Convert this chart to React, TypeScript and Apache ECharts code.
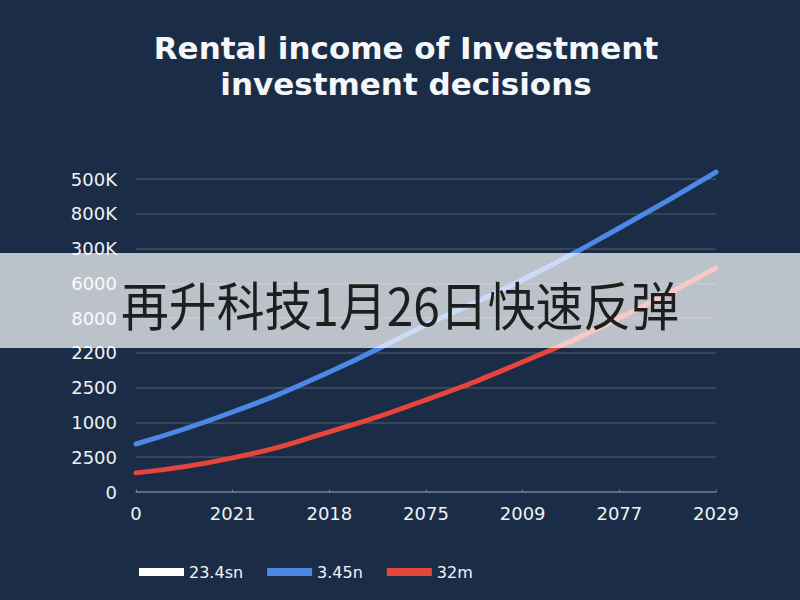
import React, { useEffect, useRef } from "react";
import * as echarts from "echarts";

const titleLines = ["Rental income of Investment", "investment decisions"];
const bannerText = "再升科技1月26日快速反弹";
const xCategories = ["0", "2021", "2018", "2075", "2009", "2077", "2029"];
// y tick labels from bottom (0) to top (9)
const yTickLabels = ["0", "2500", "1000", "2500", "2200", "8000", "6000", "300K", "800K", "500K"];
const seriesNames = ["23.4sn", "3.45n", "32m"];
const whiteValues: number[] = [];
const blueValues = [1.38, 2.3, 3.45, 4.8, 6.1, 7.59, 9.2];
const redValues = [0.55, 0.98, 1.73, 2.65, 3.74, 5.0, 6.44];

export default function App() {
  const ref = useRef<HTMLDivElement>(null);
  useEffect(() => {
    document.body.style.margin = "0";
    const chart = echarts.init(ref.current!, undefined, { renderer: "svg" });
    const font = "DejaVu Sans";
    chart.setOption({
      animation: false,
      backgroundColor: "#1b2d46",
      grid: { left: 136, right: 84, top: 179, bottom: 108, containLabel: false },
      legend: {
        left: 134,
        top: 559,
        icon: "rect",
        itemWidth: 45,
        itemHeight: 8,
        itemGap: 24,
        data: seriesNames,
        textStyle: { color: "#f2f4f7", fontSize: 16, fontFamily: font },
      },
      xAxis: {
        type: "category",
        data: xCategories,
        boundaryGap: false,
        axisLine: { lineStyle: { color: "rgba(255,255,255,0.28)", width: 1.5 } },
        axisTick: { show: true, inside: true, length: 3, lineStyle: { color: "rgba(255,255,255,0.28)" } },
        axisLabel: { color: "#eef1f5", fontSize: 18, fontFamily: font, margin: 12 },
        splitLine: { show: false },
      },
      yAxis: {
        type: "value",
        min: 0,
        max: 9,
        interval: 1,
        axisLine: { show: false },
        axisTick: { show: false },
        axisLabel: {
          color: "#eef1f5",
          fontSize: 18,
          fontFamily: font,
          margin: 19,
          formatter: (v: number) => yTickLabels[Math.round(v)] ?? "",
        },
        splitLine: { lineStyle: { color: "rgba(255,255,255,0.16)", width: 1.5 } },
      },
      series: [
        {
          name: seriesNames[0],
          type: "line",
          data: whiteValues,
          itemStyle: { color: "#ffffff" },
          lineStyle: { color: "#ffffff", width: 5 },
          showSymbol: false,
          symbol: "none",
        },
        {
          name: seriesNames[1],
          type: "line",
          data: blueValues,
          smooth: true,
          clip: false,
          symbol: "none",
          itemStyle: { color: "#4c88e6" },
          lineStyle: { color: "#4c88e6", width: 5, cap: "round" },
        },
        {
          name: seriesNames[2],
          type: "line",
          data: redValues,
          smooth: true,
          clip: false,
          symbol: "none",
          itemStyle: { color: "#e6453b" },
          lineStyle: { color: "#e6453b", width: 5, cap: "round" },
        },
      ],
      graphic: [
        {
          type: "text",
          x: 406,
          y: 48,
          z: 100,
          style: {
            text: titleLines[0],
            fill: "#f4f6f9",
            font: `bold 31px "${font}"`,
            textAlign: "center",
            textVerticalAlign: "middle",
          },
        },
        {
          type: "text",
          x: 406,
          y: 84,
          z: 100,
          style: {
            text: titleLines[1],
            fill: "#f4f6f9",
            font: `bold 31px "${font}"`,
            textAlign: "center",
            textVerticalAlign: "middle",
          },
        },
        {
          type: "rect",
          z: 100,
          shape: { x: 0, y: 253, width: 800, height: 95 },
          style: { fill: "rgba(255,255,255,0.71)" },
        },
        {
          type: "text",
          x: 400,
          y: 303,
          z: 101,
          scaleX: 0.92,
          originX: 0,
          originY: 0,
          style: {
            text: bannerText,
            fill: "#1e1e1e",
            font: `52px "Noto Sans CJK SC"`,
            textAlign: "center",
            textVerticalAlign: "middle",
          },
        },
      ],
    });
    return () => chart.dispose();
  }, []);
  return (
    <div
      ref={ref}
      style={{ position: "fixed", left: 0, top: 0, width: 800, height: 600 }}
    />
  );
}
